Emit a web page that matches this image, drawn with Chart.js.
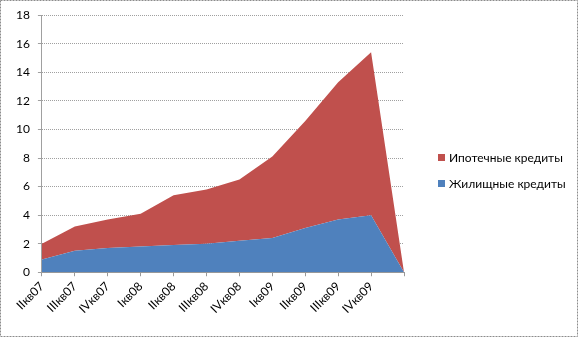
<!DOCTYPE html>
<html>
<head>
    <meta charset="UTF-8">
    <title>Кредиты</title>
    <style>
        body { margin: 0; background: #fff; }
        #wrap { width: 578px; height: 337px; }
    </style>
</head>
<body>
<script src="https://cdn.jsdelivr.net/npm/chart.js@4/dist/chart.umd.min.js"></script>
<div id="wrap"><canvas id="myChart" width="578" height="337"></canvas></div>
<script type="text/javascript">
    var labels = ["IIкв07", "IIIкв07", "IVкв07", "Iкв08", "IIкв08", "IIIкв08", "IVкв08", "Iкв09", "IIкв09", "IIIкв09", "IVкв09", ""];
    var zhilishchnye = [0.9, 1.5, 1.7, 1.8, 1.9, 2.0, 2.2, 2.4, 3.1, 3.7, 4.0, 0];
    var ipotechnye = [1.1, 1.7, 2.0, 2.3, 3.5, 3.8, 4.3, 5.7, 7.5, 9.6, 11.4, 0];
    var yTicks = [0, 2, 4, 6, 8, 10, 12, 14, 16, 18];

    // dashed frame + legend on the right (top series first)
    var extras = {
        id: 'extras',
        afterDraw: function(chart) {
            var c = chart.ctx;
            c.save();
            c.strokeStyle = '#8c8c8c';
            c.lineWidth = 1;
            c.setLineDash([2, 1]);
            c.strokeRect(0.5, 0.5, chart.width - 1, chart.height - 1);
            c.setLineDash([]);

            var sets = chart.data.datasets.slice().reverse();
            c.font = '12px Lato';
            c.textBaseline = 'middle';
            sets.forEach(function(ds, i) {
                var y = 157 + i * 26;
                c.fillStyle = ds.backgroundColor;
                c.fillRect(438, y - 3, 7, 7);
                c.fillStyle = '#000';
                c.fillText(ds.label, 449, y + 1);
            });
            c.restore();
        }
    };

    var ctx = document.getElementById('myChart').getContext('2d');
    var myChart = new Chart(ctx, {
        type: 'line',
        data: {
            labels: labels,
            datasets: [{
                label: "Жилищные кредиты",
                data: zhilishchnye,
                backgroundColor: "#4f81bd",
                borderColor: "#4f81bd",
                borderWidth: 0,
                pointRadius: 0,
                tension: 0,
                fill: 'origin'
            }, {
                label: "Ипотечные кредиты",
                data: ipotechnye,
                backgroundColor: "#c0504d",
                borderColor: "#c0504d",
                borderWidth: 0,
                pointRadius: 0,
                tension: 0,
                fill: '-1'
            }]
        },
        options: {
            responsive: false,
            animation: false,
            layout: { padding: { left: 8, right: 174, top: 8, bottom: 18 } },
            plugins: {
                tooltip: { enabled: false },
                legend: { display: false }
            },
            scales: {
                x: {
                    offset: false,
                    grid: { drawOnChartArea: false, tickLength: 4, color: '#999' },
                    border: { color: '#999' },
                    ticks: {
                        maxRotation: 45,
                        minRotation: 45,
                        autoSkip: false,
                        color: '#000',
                        font: { family: 'Lato', size: 12 }
                    }
                },
                y: {
                    stacked: true,
                    min: 0,
                    max: 18,
                    afterBuildTicks: function(axis) {
                        axis.ticks = yTicks.map(function(v) { return { value: v }; });
                    },
                    grid: { color: '#a0a0a0', tickLength: 4 },
                    border: { color: '#a0a0a0', dash: [1, 1] },
                    ticks: {
                        color: '#000',
                        padding: 8,
                        font: { family: 'Lato', size: 12 }
                    }
                }
            }
        },
        plugins: [extras]
    });
</script>
</body>
</html>
